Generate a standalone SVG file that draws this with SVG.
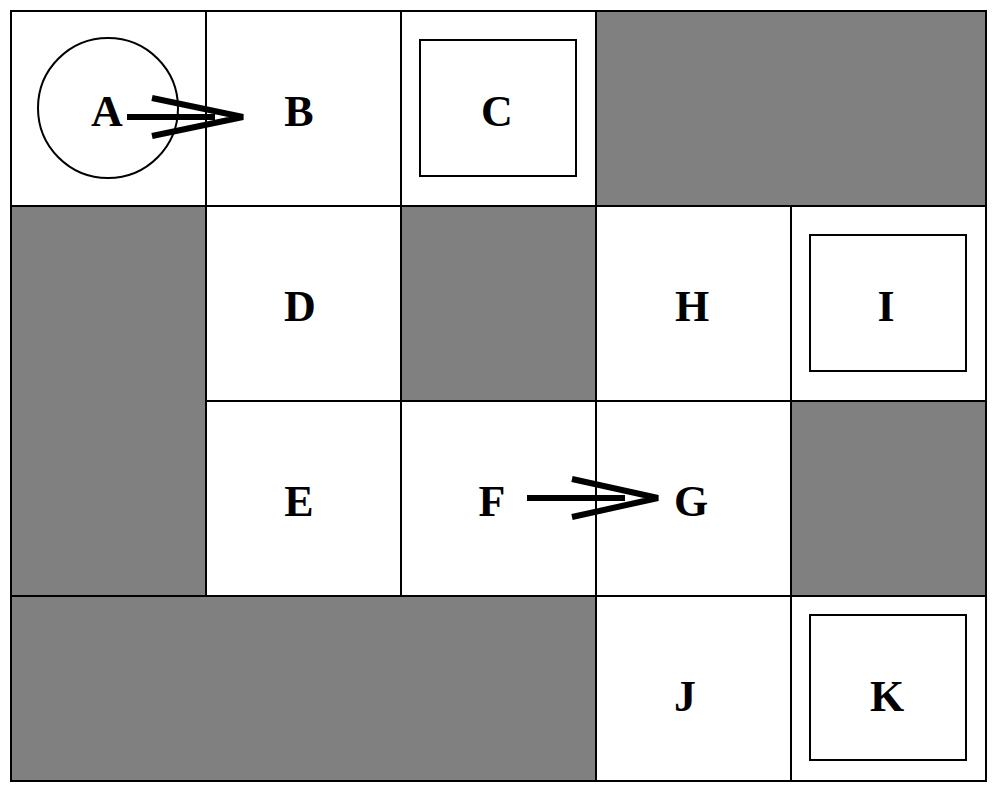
<svg xmlns="http://www.w3.org/2000/svg" width="994" height="791" viewBox="0 0 994 791">
<style>
.c{fill:#fff;stroke:#000;stroke-width:2}
.g{fill:#808080;stroke:#000;stroke-width:2}
.b{fill:none;stroke:#000;stroke-width:2}
.t{font-family:"Liberation Serif",serif;font-weight:bold;font-size:44px;text-anchor:middle}
.a{fill:none;stroke:#000;stroke-width:6}
</style>
<rect width="994" height="791" fill="#fff"/>
<g id="grid">
<rect class="c" x="11" y="11" width="195" height="195"/>
<rect class="c" x="206" y="11" width="195" height="195"/>
<rect class="c" x="401" y="11" width="195" height="195"/>
<rect class="g" x="596" y="11" width="390" height="195"/>
<rect class="g" x="11" y="206" width="195" height="390"/>
<rect class="c" x="206" y="206" width="195" height="195"/>
<rect class="g" x="401" y="206" width="195" height="195"/>
<rect class="c" x="596" y="206" width="195" height="195"/>
<rect class="c" x="791" y="206" width="195" height="195"/>
<rect class="c" x="206" y="401" width="195" height="195"/>
<rect class="c" x="401" y="401" width="195" height="195"/>
<rect class="c" x="596" y="401" width="195" height="195"/>
<rect class="g" x="791" y="401" width="195" height="195"/>
<rect class="g" x="11" y="596" width="585" height="185"/>
<rect class="c" x="596" y="596" width="195" height="185"/>
<rect class="c" x="791" y="596" width="195" height="185"/>
</g>
<g id="A"><circle class="b" cx="108" cy="108" r="70"/><text class="t" x="107" y="126">A</text></g>
<g id="B"><text class="t" x="299" y="126">B</text></g>
<g id="C"><rect class="b" x="420" y="40" width="156" height="136"/><text class="t" x="497" y="126">C</text></g>
<g id="D"><text class="t" x="300" y="321">D</text></g>
<g id="H"><text class="t" x="692" y="321">H</text></g>
<g id="I"><rect class="b" x="810" y="235" width="156" height="136"/><text class="t" x="886" y="321">I</text></g>
<g id="E"><text class="t" x="299" y="516">E</text></g>
<g id="F"><text class="t" x="492" y="516">F</text></g>
<g id="G"><text class="t" x="691" y="516">G</text></g>
<g id="J"><text class="t" x="685" y="711">J</text></g>
<g id="K"><rect class="b" x="810" y="615" width="156" height="145"/><text class="t" x="887" y="711">K</text></g>
<g id="connectors">
<path class="a" d="M127 117H215M152 98L243 117L152 136"/>
<path class="a" d="M527 498H625M572 479L658 498L572 517"/>
</g>
</svg>
